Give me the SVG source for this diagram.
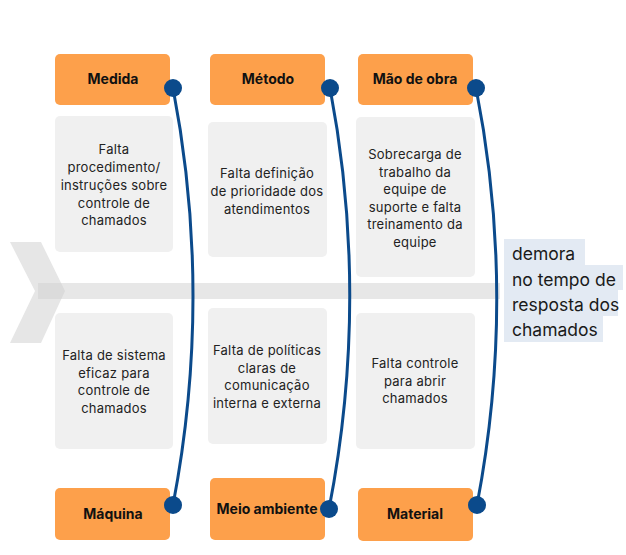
<svg xmlns="http://www.w3.org/2000/svg" width="626" height="555" viewBox="0 0 626 555">
<style>
.hd{fill:#fda04b}
.bx{fill:#f0f0f0}
.ht{font-family:Inter,"Open Sans",sans-serif;font-size:14px;font-weight:700;fill:#111;text-anchor:middle}
.bt{font-family:Inter,"Open Sans",sans-serif;font-size:13px;letter-spacing:0.25px;fill:#222;text-anchor:middle}
.ef{font-family:Inter,"Open Sans",sans-serif;font-size:17.5px;fill:#1a1a1a}
.cv{fill:none;stroke:#0b4a8b;stroke-width:3}
.dt{fill:#0b4a8b}
</style>
<rect width="626" height="555" fill="#fff"/>
<g id="spine">
<polygon points="10,242 41,242 65,291 41,343 10,343 35,291" fill="#e6e6e6"/>
<rect x="38" y="283" width="462" height="16" fill="#d0d0d0" fill-opacity="0.5"/>
</g>
<g id="medida"><rect class="hd" x="55" y="54" width="115" height="51" rx="5"/><text class="ht" x="113" y="84">Medida</text></g>
<g id="metodo"><rect class="hd" x="210" y="54" width="115" height="51" rx="5"/><text class="ht" x="268" y="84">Método</text></g>
<g id="maodeobra"><rect class="hd" x="358" y="54" width="115" height="51" rx="5"/><text class="ht" x="415" y="84">Mão de obra</text></g>
<g id="maquina"><rect class="hd" x="55" y="488" width="115" height="52" rx="5"/><text class="ht" x="113" y="519">Máquina</text></g>
<g id="meioambiente"><rect class="hd" x="210" y="478" width="115" height="62" rx="5"/><text class="ht" x="267" y="514">Meio ambiente</text></g>
<g id="material"><rect class="hd" x="358" y="488" width="115" height="53" rx="5"/><text class="ht" x="415" y="519">Material</text></g>
<g id="c1"><rect class="bx" x="55" y="116" width="118" height="136" rx="5"/>
<text class="bt" x="114" y="154">Falta</text>
<text class="bt" x="114" y="172">procedimento/</text>
<text class="bt" x="114" y="190">instruções sobre</text>
<text class="bt" x="114" y="208">controle de</text>
<text class="bt" x="114" y="225">chamados</text></g>
<g id="c2"><rect class="bx" x="208" y="122" width="119" height="135" rx="5"/>
<text class="bt" x="267" y="178">Falta definição</text>
<text class="bt" x="267" y="196">de prioridade dos</text>
<text class="bt" x="267" y="214">atendimentos</text></g>
<g id="c3"><rect class="bx" x="356" y="117" width="119" height="160" rx="5"/>
<text class="bt" x="415" y="159">Sobrecarga de</text>
<text class="bt" x="415" y="177">trabalho da</text>
<text class="bt" x="415" y="194">equipe de</text>
<text class="bt" x="415" y="212">suporte e falta</text>
<text class="bt" x="415" y="229">treinamento da</text>
<text class="bt" x="415" y="247">equipe</text></g>
<g id="c4"><rect class="bx" x="55" y="313" width="118" height="136" rx="5"/>
<text class="bt" x="114" y="360">Falta de sistema</text>
<text class="bt" x="114" y="378">eficaz para</text>
<text class="bt" x="114" y="395">controle de</text>
<text class="bt" x="114" y="413">chamados</text></g>
<g id="c5"><rect class="bx" x="208" y="308" width="119" height="136" rx="5"/>
<text class="bt" x="267" y="355">Falta de políticas</text>
<text class="bt" x="267" y="373">claras de</text>
<text class="bt" x="267" y="390">comunicação</text>
<text class="bt" x="267" y="408">interna e externa</text></g>
<g id="c6"><rect class="bx" x="356" y="313" width="119" height="136" rx="5"/>
<text class="bt" x="415" y="368">Falta controle</text>
<text class="bt" x="415" y="386">para abrir</text>
<text class="bt" x="415" y="403">chamados</text></g>
<g id="effect">
<rect x="504" y="239" width="81" height="26" fill="#e3eaf3"/>
<rect x="504" y="265" width="119" height="25" fill="#e3eaf3"/>
<rect x="504" y="290" width="114" height="26" fill="#e3eaf3"/>
<rect x="504" y="316" width="99" height="26" fill="#e3eaf3"/>
<text class="ef" x="512" y="260">demora</text>
<text class="ef" x="512" y="286">no tempo de</text>
<text class="ef" x="512" y="311">resposta dos</text>
<text class="ef" x="512" y="336">chamados</text>
</g>
<g id="connectors">
<path class="cv" d="M173,88 Q213,296 173,505"/>
<path class="cv" d="M330,88 Q370,298 329,509"/>
<path class="cv" d="M476,88 Q517,296 477,505"/>
<circle class="dt" cx="173" cy="88" r="9"/>
<circle class="dt" cx="330" cy="88" r="9"/>
<circle class="dt" cx="476" cy="88" r="9"/>
<circle class="dt" cx="173" cy="505" r="9"/>
<circle class="dt" cx="329" cy="509" r="9"/>
<circle class="dt" cx="477" cy="505" r="9"/>
</g>
</svg>
